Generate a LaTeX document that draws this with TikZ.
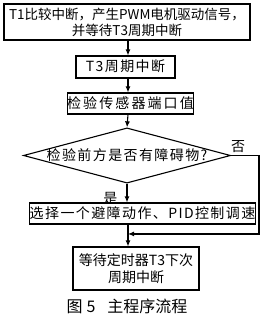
\documentclass[tikz,border=0pt]{standalone}
\usepackage{fontspec}
\setmainfont{Noto Sans CJK SC}
\newfontfamily\spaced[LetterSpace=10]{Noto Sans CJK SC}
\usetikzlibrary{arrows.meta,positioning,shapes.geometric}

\begin{document}
\begin{tikzpicture}[
  x=1pt, y=1pt,
  box/.style={draw, line width=1.1pt, align=center, inner sep=0pt, font=\fontsize{14}{17}\selectfont\spaced},
  oneline/.style={text height=12pt, text depth=2pt},
  decision/.style={draw, line width=1.1pt, diamond, aspect=3.75, inner ysep=0pt, inner xsep=-3pt, text height=12pt, text depth=2pt, font=\fontsize{14}{17}\selectfont\spaced},
  label/.style={inner sep=1pt, text height=12pt, text depth=2pt, font=\fontsize{14}{17}\selectfont},
  arrow/.style={-{Latex[length=6pt,width=5pt]}, line width=1.1pt}
]
\useasboundingbox (0,0) rectangle (267,-318);
\coordinate (axis) at (128,0);
\coordinate (rightx) at (259,0);

% boxes of the main column
\node[box, minimum width=246pt, minimum height=36pt, font=\fontsize{13.5}{16}\selectfont] (start) at (127,-22)
  {T1比较中断，产生PWM电机驱动信号，\\并等待T3周期中断};
\node[box, oneline, minimum width=99pt, minimum height=22pt] (t3int) at (125.5,-67) {T3周期中断};
\node[box, oneline, minimum width=125pt, minimum height=21pt, font=\fontsize{14}{17}\selectfont\addfontfeature{LetterSpace=15}] (sensor) at (130.5,-103.5) {检验传感器端口值};
\node[decision] (obst) at (127,-155.5) {检验前方是否有障碍物?};
\node[box, oneline, minimum width=215pt, minimum height=21pt] (avoid) at (142.5,-213.5) {选择一个避障动作、PID控制调速};
\node[box, minimum width=126pt, minimum height=43pt, font=\fontsize{14}{17}\selectfont] (wait) at (136,-268.5) {等待定时器T3下次\\周期中断};
\node[inner sep=0pt, text height=13pt, text depth=2pt, font=\fontsize{16}{18}\selectfont] (caption) at (127,-306.5) {图\hspace{4pt}5\hspace{12pt}主程序流程};

\path (avoid.south -| axis) -- (wait.north -| axis) coordinate[pos=0.43] (merge);

\draw[arrow] (start.south -| axis) -- (t3int.north -| axis);
\draw[arrow] (t3int.south -| axis) -- (sensor.north -| axis);
\draw[arrow] (sensor.south -| axis) -- (obst.north);
\draw[arrow] (obst.south) -- node[label, left, pos=0.8, xshift=-8pt] {是} (avoid.north -| obst.south);
\draw[arrow] (avoid.south -| axis) -- (wait.north -| axis);
\draw[arrow] (obst.east) -- node[label, above, pos=0.25] {否} (obst.east -| rightx) |- (merge);
\end{tikzpicture}
\end{document}
